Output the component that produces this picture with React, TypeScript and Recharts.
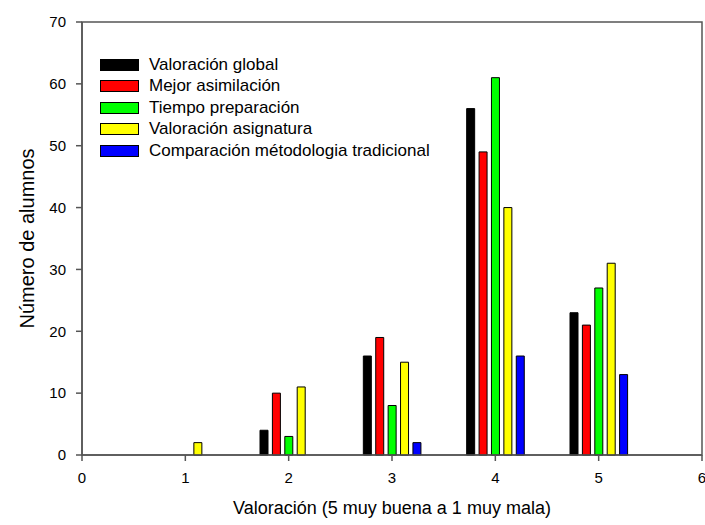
import React from "react";
import {
  BarChart,
  Bar,
  XAxis,
  YAxis,
  Legend,
  ReferenceArea,
  Label
} from "recharts";

// rating on the x axis (1 = muy mala ... 5 = muy buena)
const ratings = [1, 2, 3, 4, 5];

const valoracionGlobal = [0, 4, 16, 56, 23];
const mejorAsimilacion = [0, 10, 19, 49, 21];
const tiempoPreparacion = [0, 3, 8, 61, 27];
const valoracionAsignatura = [2, 11, 15, 40, 31];
const comparacionMetodologia = [0, 0, 2, 16, 13];

const xTicks = [0, 1, 2, 3, 4, 5, 6];
const yTicks = [0, 10, 20, 30, 40, 50, 60, 70];

const series = [
  { key: "global", name: "Valoración global", color: "#000000", values: valoracionGlobal },
  { key: "asimilacion", name: "Mejor asimilación", color: "#ff0000", values: mejorAsimilacion },
  { key: "tiempo", name: "Tiempo preparación", color: "#00ff00", values: tiempoPreparacion },
  { key: "asignatura", name: "Valoración asignatura", color: "#ffff00", values: valoracionAsignatura },
  { key: "comparacion", name: "Comparación métodologia tradicional", color: "#0000ff", values: comparacionMetodologia }
];

const data = ratings.map((x, i) => {
  const row: Record<string, number> = { x };
  series.forEach((s) => {
    row[s.key] = s.values[i];
  });
  return row;
});

const FONT = "'Liberation Sans', Arial, sans-serif";
const AXIS = "#555";

const LegendBox = () => (
  <div style={{ fontFamily: FONT, fontSize: 17, color: "#000" }}>
    {series.map((s) => (
      <div key={s.key} style={{ display: "flex", alignItems: "center", height: 21.5 }}>
        <span
          style={{
            display: "inline-block",
            width: 37,
            height: 10,
            background: s.color,
            border: "1px solid #000",
            marginRight: 10
          }}
        />
        <span>{s.name}</span>
      </div>
    ))}
  </div>
);

const App: React.FC = () => {
  return (
    <div style={{ position: "absolute", left: 0, top: 0, background: "#fff" }}>
      <BarChart
        width={705}
        height={525}
        data={data}
        margin={{ top: 22, right: 3, left: 0, bottom: 0 }}
        barSize={8}
        barGap={4.4}
      >
        <XAxis
          type="number"
          dataKey="x"
          domain={[0, 6]}
          ticks={xTicks}
          interval={0}
          height={70}
          stroke={AXIS}
          strokeWidth={1.5}
          tickSize={6}
          tickMargin={11}
          tick={{ fill: "#000", fontSize: 15, fontFamily: FONT }}
        >
          <Label
            content={({ viewBox }: any) => (
              <text
                x={viewBox.x + viewBox.width / 2}
                y={514}
                textAnchor="middle"
                fontSize={18}
                fontFamily={FONT}
                fill="#000"
              >
                Valoración (5 muy buena a 1 muy mala)
              </text>
            )}
          />
        </XAxis>
        <YAxis
          type="number"
          domain={[0, 70]}
          ticks={yTicks}
          interval={0}
          width={82}
          stroke={AXIS}
          strokeWidth={1.5}
          tickSize={6}
          tickMargin={10}
          tick={{ fill: "#000", fontSize: 15, fontFamily: FONT }}
        >
          <Label
            content={({ viewBox }: any) => {
              const cy = viewBox.y + viewBox.height / 2;
              return (
                <text
                  x={27}
                  y={cy}
                  dy="0.35em"
                  textAnchor="middle"
                  transform={`rotate(-90, 27, ${cy})`}
                  fontSize={20}
                  fontFamily={FONT}
                  fill="#000"
                >
                  Número de alumnos
                </text>
              );
            }}
          />
        </YAxis>
        <ReferenceArea
          x1={0}
          x2={6}
          y1={0}
          y2={70}
          fill="none"
          fillOpacity={0}
          stroke={AXIS}
          strokeWidth={1.5}
        />
        {series.map((s) => (
          <Bar
            key={s.key}
            dataKey={s.key}
            name={s.name}
            fill={s.color}
            stroke="#000"
            strokeWidth={1}
            isAnimationActive={false}
          />
        ))}
        <Legend
          layout="vertical"
          align="center"
          verticalAlign="middle"
          content={() => <LegendBox />}
          wrapperStyle={{ position: "absolute", left: 100, top: 54, width: "auto" }}
        />
      </BarChart>
    </div>
  );
};

export default App;
